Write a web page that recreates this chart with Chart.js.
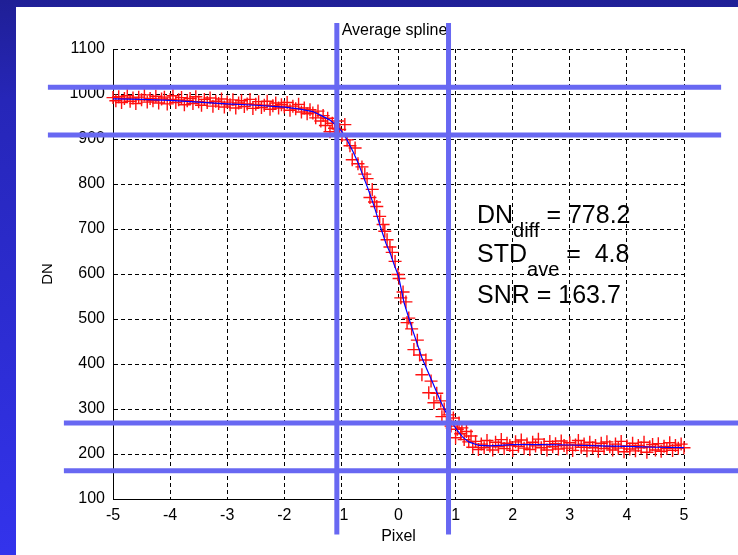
<!DOCTYPE html>
<html>
<head>
<meta charset="utf-8">
<title>Average spline</title>
<script src="https://cdn.jsdelivr.net/npm/chart.js@4.4.1/dist/chart.umd.min.js"></script>
<style>
  html, body { margin: 0; padding: 0; }
  body {
    width: 738px; height: 555px; overflow: hidden; position: relative;
    background: linear-gradient(to bottom, #1f1f96 0%, #2626b8 18%, #3333ec 100%);
  }
  #sheet { position: absolute; left: 16px; top: 7px; right: 0; bottom: 0; background: #fff; }
  #edge { position: absolute; left: 0; top: 0; }
</style>
</head>
<body>
<div id="sheet"></div>
<canvas id="edge" width="738" height="555"></canvas>
<script>
// edge samples (pixel offset from edge, digital number)
const samplePos = [
  -5.00,-4.95,-4.90,-4.85,-4.80,-4.75,-4.70,-4.65,-4.60,-4.55,
  -4.50,-4.45,-4.40,-4.35,-4.30,-4.25,-4.20,-4.15,-4.10,-4.05,
  -4.00,-3.95,-3.90,-3.85,-3.80,-3.75,-3.70,-3.65,-3.60,-3.55,
  -3.50,-3.45,-3.40,-3.35,-3.30,-3.25,-3.20,-3.15,-3.10,-3.05,
  -3.00,-2.95,-2.90,-2.85,-2.80,-2.75,-2.70,-2.65,-2.60,-2.55,
  -2.50,-2.45,-2.40,-2.35,-2.30,-2.25,-2.20,-2.15,-2.10,-2.05,
  -2.00,-1.95,-1.90,-1.85,-1.80,-1.75,-1.70,-1.65,-1.60,-1.55,
  -1.50,-1.45,-1.41,-1.36,-1.32,-1.28,-1.24,-1.20,-1.16,-1.12,
  -1.07,-1.03,-0.99,-0.94,-0.90,-0.85,-0.81,-0.76,-0.71,-0.64,
  -0.59,-0.55,-0.50,-0.46,-0.42,-0.38,-0.33,-0.27,-0.24,-0.20,
  -0.15,-0.11,-0.06,-0.01, 0.01, 0.04, 0.08, 0.13, 0.15, 0.18,
   0.23, 0.27, 0.33, 0.37, 0.41, 0.48, 0.53, 0.57, 0.62, 0.67,
   0.74, 0.76, 0.80, 0.84, 0.88, 0.92, 0.96, 1.00, 1.03, 1.06,
   1.09, 1.11, 1.15, 1.19, 1.23, 1.27,
   1.30, 1.35, 1.40, 1.45, 1.50, 1.55, 1.60, 1.65, 1.70, 1.75,
   1.80, 1.85, 1.90, 1.95, 2.00, 2.05, 2.10, 2.15, 2.20, 2.25,
   2.30, 2.35, 2.40, 2.45, 2.50, 2.55, 2.60, 2.65, 2.70, 2.75,
   2.80, 2.85, 2.90, 2.95, 3.00, 3.05, 3.10, 3.15, 3.20, 3.25,
   3.30, 3.35, 3.40, 3.45, 3.50, 3.55, 3.60, 3.65, 3.70, 3.75,
   3.80, 3.85, 3.90, 3.95, 4.00, 4.05, 4.10, 4.15, 4.20, 4.25,
   4.30, 4.35, 4.40, 4.45, 4.50, 4.55, 4.60, 4.65, 4.70, 4.75,
   4.80, 4.85, 4.90, 4.95, 5.00
];
const sampleDN = [
  992,985,994,981,990,996,984,991,979,993,
  987,998,982,990,985,995,980,989,993,978,
  988,996,981,987,992,976,985,990,979,994,
  983,975,988,981,991,973,984,979,989,971,
  982,976,987,969,980,985,972,978,988,968,
  977,983,970,975,984,966,974,980,969,976,
  971,981,964,973,967,977,960,969,956,965,
  958,947,962,940,952,930,946,916,935,924,
  940,921,908,932,898,885,854,880,845,838,
  822,812,770,788,760,750,728,710,695,676,
  660,648,628,599,590,547,560,538,492,502,
  478,432,453,420,376,409,336,362,314,335,
  318,283,300,270,287,262,280,236,255,269,
  245,258,232,250,227,240,
  215,228,210,222,214,230,218,209,226,216,
  232,212,224,219,208,227,217,231,213,222,
  210,226,218,233,214,221,209,228,216,223,
  211,229,219,213,225,208,220,230,215,222,
  207,226,214,219,206,224,212,227,216,209,
  222,213,228,205,218,211,224,207,219,214,
  226,204,216,221,209,223,206,217,212,225,
  208,219,213,222,214
];

// averaged spline through the samples
const splinePos = [-5, -4.5, -4, -3.5, -3, -2.5, -2, -1.75, -1.5, -1.35, -1.2, -1.11, -1.0,
  -0.9, -0.8, -0.71, -0.62, -0.53, -0.42, -0.32, -0.22, -0.15, -0.08, 0.0, 0.1, 0.24, 0.41,
  0.59, 0.74, 0.88, 1.02, 1.12, 1.23, 1.41, 1.6, 2, 2.5, 3, 3.5, 4, 4.5, 5];
const splineDN = [989, 988, 986, 982, 978, 975, 971, 967, 961, 952, 942, 932, 918,
  898, 873, 848, 818, 788, 748, 706, 668, 648, 622, 595, 535, 478, 414,
  361, 316, 280, 254, 238, 227, 219, 218, 221, 221, 220, 218, 217, 215, 214];

// DN difference, average std, SNR
const edgeStats = [778.2, 4.8, 163.7];

// guide lines laid over the plot
const guideCols = [-1.08, 0.876];
const guideRows = [
  { dn: 1015, from: -6.14, to: 5.65 },
  { dn: 909, from: -6.14, to: 5.65 },
  { dn: 269, from: -5.86, to: 6.1 },
  { dn: 163, from: -5.86, to: 6.1 }
];

const FONT = '"Liberation Sans", Arial, Helvetica, sans-serif';

const notes = [
  { head: 'DN', sub: 'diff', tail: ' = ' + edgeStats[0], at: 714 },
  { head: 'STD', sub: 'ave', tail: ' =  ' + edgeStats[1], at: 627 },
  { head: 'SNR = ' + edgeStats[2], sub: '', tail: '', at: 536 }
];

const notePlugin = {
  id: 'notes',
  afterDatasetsDraw(chart) {
    const { ctx, chartArea, scales: { x, y } } = chart;
    ctx.save();
    ctx.fillStyle = '#000';
    ctx.textBaseline = 'alphabetic';

    // title
    ctx.font = '16px ' + FONT;
    ctx.textAlign = 'center';
    ctx.fillText('Average spline', (chartArea.left + chartArea.right) / 2 - 4, chartArea.top - 14);

    ctx.textAlign = 'left';
    notes.forEach(n => {
      let px = x.getPixelForValue(1.375);
      const py = y.getPixelForValue(n.at);
      ctx.font = '25px ' + FONT;
      ctx.fillText(n.head, px, py);
      px += ctx.measureText(n.head).width;
      if (n.sub) {
        ctx.font = '20px ' + FONT;
        ctx.fillText(n.sub, px, py + 14);
        px += ctx.measureText(n.sub).width;
      }
      ctx.font = '25px ' + FONT;
      ctx.fillText(n.tail, px, py);
    });
    ctx.restore();
  }
};

const guidePlugin = {
  id: 'guides',
  afterDraw(chart) {
    const { ctx, scales: { x, y } } = chart;
    ctx.save();
    ctx.strokeStyle = '#6868f2';
    ctx.lineWidth = 5;
    guideRows.forEach(r => {
      const py = y.getPixelForValue(r.dn);
      ctx.beginPath();
      ctx.moveTo(x.getPixelForValue(r.from), py);
      ctx.lineTo(x.getPixelForValue(r.to), py);
      ctx.stroke();
    });
    guideCols.forEach(c => {
      const px = x.getPixelForValue(c);
      ctx.beginPath();
      ctx.moveTo(px, y.getPixelForValue(1158));
      ctx.lineTo(px, y.getPixelForValue(21));
      ctx.stroke();
    });
    ctx.restore();
  }
};

new Chart(document.getElementById('edge'), {
  type: 'scatter',
  data: {
    datasets: [
      {
        label: 'Average spline',
        data: splinePos.map((p, i) => ({ x: p, y: splineDN[i] })),
        showLine: true,
        borderColor: '#0000ff',
        borderWidth: 1.2,
        pointRadius: 0,
        tension: 0,
        order: 0
      },
      {
        label: 'Samples',
        data: samplePos.map((p, i) => ({ x: p, y: sampleDN[i] })),
        showLine: false,
        pointStyle: 'cross',
        pointRadius: 6.5,
        borderColor: '#ff1010',
        backgroundColor: '#ff1010',
        borderWidth: 1.4,
        clip: false,
        order: 1
      }
    ]
  },
  options: {
    responsive: false,
    animation: false,
    devicePixelRatio: 1,
    layout: { padding: { left: 0, top: 49, right: 54, bottom: 0 } },
    plugins: {
      legend: { display: false },
      tooltip: { enabled: false }
    },
    scales: {
      x: {
        type: 'linear',
        min: -5,
        max: 5,
        ticks: {
          stepSize: 1,
          padding: 7,
          color: '#000',
          font: { family: FONT, size: 16 },
          callback: v => String(v)
        },
        grid: { color: '#000', lineWidth: 1, drawTicks: false },
        border: { color: '#000', width: 1, dash: [4, 3] },
        title: {
          display: true,
          text: 'Pixel',
          color: '#000',
          font: { family: FONT, size: 16 },
          padding: { top: 0, bottom: 9 }
        },
        afterFit(scale) { scale.height = 56; }
      },
      y: {
        type: 'linear',
        min: 100,
        max: 1100,
        ticks: {
          stepSize: 100,
          padding: 8,
          color: '#000',
          font: { family: FONT, size: 16 },
          callback: v => String(v)
        },
        grid: { color: '#000', lineWidth: 1, drawTicks: false },
        border: { color: '#000', width: 1, dash: [4, 3] },
        title: {
          display: true,
          text: 'DN',
          color: '#000',
          font: { family: FONT, size: 15 },
          padding: { top: 39, bottom: 0 }
        },
        afterFit(scale) { scale.width = 113; }
      }
    }
  },
  plugins: [notePlugin, guidePlugin]
});
</script>
</body>
</html>
